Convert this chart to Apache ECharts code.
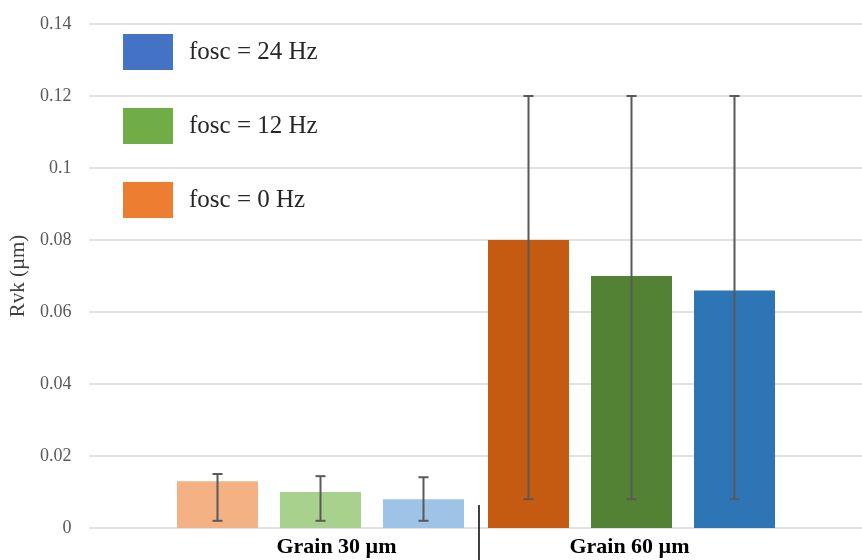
<!DOCTYPE html>
<html>
<head>
<meta charset="utf-8">
<script src="https://cdn.jsdelivr.net/npm/echarts@6/dist/echarts.min.js"></script>
<style>html,body{margin:0;padding:0;background:#fff;}#c{width:862px;height:560px;}</style>
</head>
<body>
<div id="c"></div>
<script>
// ---- data ----
const categories = ['Grain 30 µm', 'Grain 60 µm'];
const seriesNames = ['fosc = 0 Hz', 'fosc = 12 Hz', 'fosc = 24 Hz'];
const fosc0 = [0.013, 0.080];
const fosc12 = [0.010, 0.070];
const fosc24 = [0.008, 0.066];
const err0Low = [0.002, 0.008];
const err0High = [0.015, 0.120];
const err12Low = [0.002, 0.008];
const err12High = [0.0144, 0.120];
const err24Low = [0.002, 0.008];
const err24High = [0.0141, 0.120];
const yTicks = [0, 0.02, 0.04, 0.06, 0.08, 0.1, 0.12, 0.14];
const legendOrder = ['fosc = 24 Hz', 'fosc = 12 Hz', 'fosc = 0 Hz'];

// ---- styles ----
const legendColors = ['#ED7D31', '#70AD47', '#4472C4'];
const barColors = [['#F4B183', '#C55A11'], ['#A9D18E', '#548235'], ['#9DC3E6', '#2E75B6']];
const BAR_W = 81, BAR_GAP = 22;
const serif = '"Liberation Serif", "DejaVu Serif", serif';

const values = [fosc0, fosc12, fosc24];
const lows = [err0Low, err12Low, err24Low];
const highs = [err0High, err12High, err24High];

const chart = echarts.init(document.getElementById('c'));

const barSeries = seriesNames.map((name, s) => ({
  type: 'bar', name: name, xAxisIndex: 1, yAxisIndex: 1,
  barWidth: BAR_W, barGap: (BAR_GAP / BAR_W * 100) + '%',
  itemStyle: { color: legendColors[s] },
  data: values[s].map((v, i) => ({ value: v, itemStyle: { color: barColors[s][i] } })),
  z: 2
}));

const errSeries = seriesNames.map((name, s) => ({
  type: 'custom', xAxisIndex: 1, yAxisIndex: 1, z: 5,
  data: categories.map((c, i) => [i, lows[s][i], highs[s][i]]),
  renderItem: function (params, api) {
    const off = (s - 1) * (BAR_W + BAR_GAP);
    const lo = api.coord([api.value(0), api.value(1)]);
    const hi = api.coord([api.value(0), api.value(2)]);
    const x = lo[0] + off;
    const st = { stroke: '#595959', lineWidth: 2 };
    return { type: 'group', children: [
      { type: 'line', shape: { x1: x, y1: lo[1], x2: x, y2: hi[1] }, style: st },
      { type: 'line', shape: { x1: x - 5, y1: lo[1], x2: x + 5, y2: lo[1] }, style: st },
      { type: 'line', shape: { x1: x - 5, y1: hi[1], x2: x + 5, y2: hi[1] }, style: st }
    ]};
  }
}));

const option = {
  animation: false,
  backgroundColor: '#ffffff',
  grid: [
    { left: 88, right: 0, top: 24, bottom: 32 },
    { left: 165, right: 75, top: 24, bottom: 32 }
  ],
  legend: {
    data: legendOrder,
    orient: 'vertical', left: 123, top: 34, padding: 0,
    itemWidth: 50, itemHeight: 36, itemGap: 38,
    icon: 'rect',
    textStyle: { fontFamily: serif, fontSize: 25, color: '#262626', padding: [0, 0, 0, 11] },
    selectedMode: false
  },
  xAxis: [
    { type: 'category', gridIndex: 0, data: [''], show: false },
    { type: 'category', gridIndex: 1, data: categories,
      axisLine: { show: false }, axisTick: { show: false },
      axisLabel: { margin: 8,
        formatter: (v, i) => i === 0 ? '{a|' + v + '}' : '{b|' + v + '}',
        rich: {
          a: { fontFamily: serif, fontSize: 22, fontWeight: 'bold', color: '#000', padding: [0, 0, 0, 32] },
          b: { fontFamily: serif, fontSize: 22, fontWeight: 'bold', color: '#000', padding: [0, 4, 0, 0] }
        } } }
  ],
  yAxis: [
    { type: 'value', gridIndex: 0, min: 0, max: 0.14, interval: 0.02,
      name: 'Rvk (µm)', nameLocation: 'middle', nameGap: 58, nameRotate: 90,
      nameTextStyle: { fontFamily: serif, fontSize: 21, color: '#404040' },
      axisLine: { show: false }, axisTick: { show: false },
      axisLabel: { fontFamily: serif, fontSize: 18, color: '#595959', margin: 18,
        formatter: v => { const t = yTicks.find(k => Math.abs(k - v) < 1e-9); return String(t !== undefined ? +t.toFixed(2) : +v.toFixed(2)); } },
      splitLine: { lineStyle: { color: '#D9D9D9', width: 1.5 } } },
    { type: 'value', gridIndex: 1, min: 0, max: 0.14, interval: 0.02, show: false, splitLine: { show: false } }
  ],
  series: barSeries.concat(errSeries)
};
chart.setOption(option);

// category divider derived from the axis scale
const c0 = chart.convertToPixel({ xAxisIndex: 1 }, categories[0]);
const c1 = chart.convertToPixel({ xAxisIndex: 1 }, categories[1]);
const y0 = chart.convertToPixel({ yAxisIndex: 1 }, 0);
const midX = (c0 + c1) / 2 + 3;
chart.setOption({
  graphic: [{ type: 'line', shape: { x1: midX, y1: y0 - 23, x2: midX, y2: 560 },
    style: { stroke: '#000', lineWidth: 1.5 }, z: 10 }]
});
</script>
</body>
</html>
